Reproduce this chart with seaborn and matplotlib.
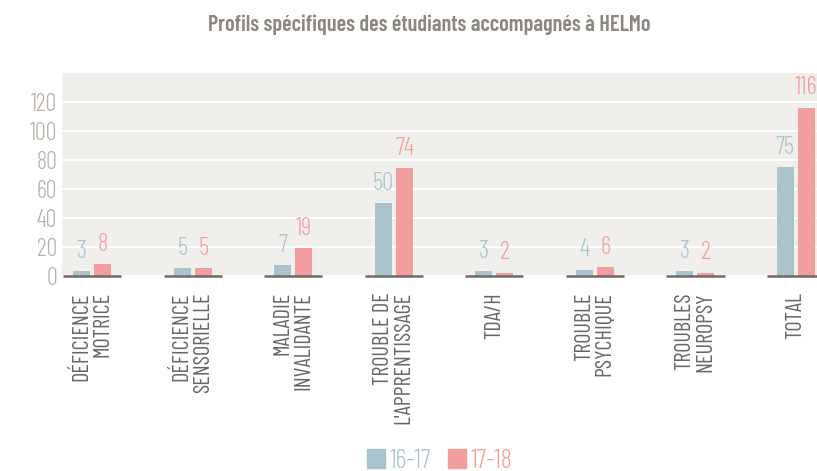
import matplotlib
matplotlib.use("Agg")
import matplotlib.pyplot as plt
import matplotlib.patches as mpatches
import seaborn as sns
import pandas as pd

categories = ["DÉFICIENCE\nMOTRICE", "DÉFICIENCE\nSENSORIELLE", "MALADIE\nINVALIDANTE",
              "TROUBLE DE\nL'APPRENTISSAGE", "TDA/H", "TROUBLE\nPSYCHIQUE",
              "TROUBLES\nNEUROPSY", "TOTAL"]
years = ["16-17", "17-18"]
vals_1617 = [3, 5, 7, 50, 3, 4, 3, 75]
vals_1718 = [8, 5, 19, 74, 2, 6, 2, 116]
yticks = [0, 20, 40, 60, 80, 100, 120]

BLUE = "#a8c3cc"
PINK = "#f29e9f"

df = pd.DataFrame({
    "cat": categories * 2,
    "year": [years[0]] * len(categories) + [years[1]] * len(categories),
    "n": vals_1617 + vals_1718,
})

sns.set_theme(style="white")
plt.rcParams["font.family"] = ["Barlow Condensed", "DejaVu Sans"]
plt.rcParams["font.stretch"] = "condensed"

fig = plt.figure(figsize=(8.17, 4.71), dpi=100)
ax = fig.add_axes([0.0759, 0.415, 0.9241, 0.4305])
ax.set_facecolor("#f0efeb")

sns.barplot(data=df, x="cat", y="n", hue="year", order=categories, hue_order=years,
            palette=[BLUE, PINK], width=0.42, gap=0.19, saturation=1, linewidth=0,
            legend=False, ax=ax, zorder=3)

for cont, col in zip(ax.containers, [BLUE, PINK]):
    ax.bar_label(cont, padding=6, color=col, fontsize=18, fontweight=300)

# short dark base line under each group
for i in range(len(categories)):
    ax.plot([i - 0.29, i + 0.29], [0, 0], color="#6e6a66", lw=1.8, zorder=4,
            solid_capstyle="butt", clip_on=False)

ax.set_ylim(0, 140)
ax.set_xlim(-0.30, 7.21)
ax.set_yticks(yticks)
ax.yaxis.grid(True, color="white", lw=1.6, zorder=1)
ax.set_axisbelow(True)
for s in ax.spines.values():
    s.set_visible(False)
ax.set_xlabel("")
ax.set_ylabel("")
ax.tick_params(axis="y", length=0, pad=3.5, labelsize=17.5, labelcolor="#b8b0a8")
for t in ax.get_yticklabels():
    t.set_fontweight(300)
ax.tick_params(axis="x", length=0, pad=12)
ax.set_xticks(range(len(categories)))
ax.set_xticklabels(categories, rotation=90, ha="center", va="top",
                   multialignment="right", fontsize=16, color="#6b6661",
                   linespacing=1.0)

fig.text(0.526, 0.947, "Profils spécifiques des étudiants accompagnés à HELMo",
         ha="center", va="center", fontsize=16, fontweight=600, color="#8c8680")

handles = [mpatches.Patch(color=BLUE, label=years[0]),
           mpatches.Patch(color=PINK, label=years[1])]
leg = fig.legend(handles=handles, loc="center", bbox_to_anchor=(0.538, 0.022), ncol=2,
                 frameon=False, prop={"size": 19, "weight": 300},
                 handlelength=0.7, handleheight=0.7,
                 handletextpad=0.15, columnspacing=0.65, borderaxespad=0)
for t, col in zip(leg.get_texts(), [BLUE, PINK]):
    t.set_color(col)

fig.savefig("out.png", dpi=100)
